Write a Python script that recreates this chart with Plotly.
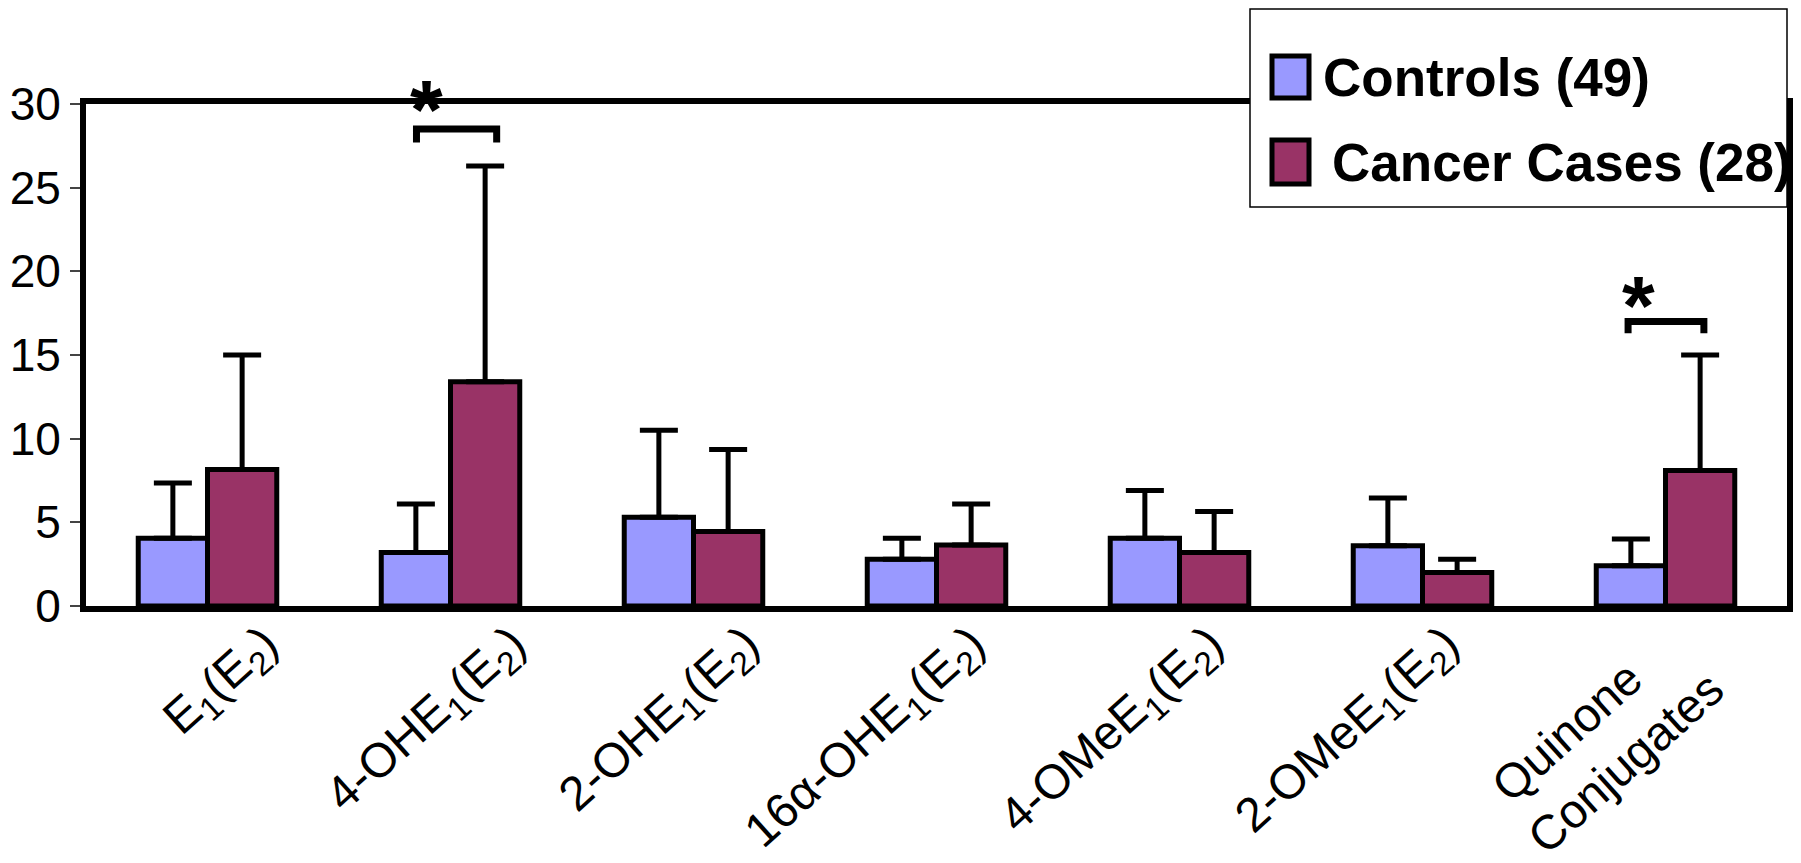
import plotly.graph_objects as go

# ---------------- data ----------------
categories = [
    "E<sub>1</sub>(E<sub>2</sub>)",
    "4-OHE<sub>1</sub>(E<sub>2</sub>)",
    "2-OHE<sub>1</sub>(E<sub>2</sub>)",
    "16α-OHE<sub>1</sub>(E<sub>2</sub>)",
    "4-OMeE<sub>1</sub>(E<sub>2</sub>)",
    "2-OMeE<sub>1</sub>(E<sub>2</sub>)",
    "Quinone&nbsp;&nbsp;&nbsp;&nbsp;<br>Conjugates",
]
controls = [4.05, 3.2, 5.3, 2.8, 4.05, 3.6, 2.4]
controls_err = [3.3, 2.9, 5.2, 1.25, 2.85, 2.85, 1.6]
cases = [8.15, 13.4, 4.45, 3.65, 3.2, 2.0, 8.1]
cases_err = [6.85, 12.9, 4.9, 2.45, 2.45, 0.8, 6.9]
series_names = ["Controls (49)", "Cancer Cases (28)"]
series_colors = ["#9999FF", "#993366"]
y_ticks = [0, 5, 10, 15, 20, 25, 30]
# significance brackets: (group index, left offset, right offset, bar level, leg end, star offset, star level)
sig_marks = [
    (1, -0.14, 0.19, 28.5, 27.7, -0.097, 29.6),
    (6, -0.154, 0.158, 17.0, 16.3, -0.113, 18.5),
]

# layout-only nudges of the rotated category labels (in category units)
label_nudge = [0.07, 0.09, 0.05, -0.02, -0.04, -0.07, -0.15]

FONT = "Arial, Liberation Sans, sans-serif"
OFF = 8  # page body margin
W, H = 1801 - OFF, 863 - OFF
PL, PR, PT, PB = 86 - OFF, 1787 - OFF, 104 - OFF, 606 - OFF


def pxx(x):
    return (x - OFF - PL) / (PR - PL)


def pxy(y):
    return (PB - (y - OFF)) / (PB - PT)


xs = list(range(len(categories)))
label_pos = [x + d for x, d in zip(xs, label_nudge)]

fig = go.Figure()
for name, vals, errs, col in [
    (series_names[0], controls, controls_err, series_colors[0]),
    (series_names[1], cases, cases_err, series_colors[1]),
]:
    fig.add_trace(go.Bar(
        x=xs, y=vals, name=name,
        marker=dict(color=col, line=dict(color="black", width=5)),
        error_y=dict(type="data", array=errs, symmetric=False,
                     arrayminus=[0] * len(errs),
                     color="black", thickness=5, width=19),
        showlegend=False,
    ))

shapes = []
annotations = []
for i, (g, lo, hi, lvl, leg, so, sl) in enumerate(sig_marks):
    shapes.append(dict(
        type="path", xref="x", yref="y",
        path=f"M {g+lo},{leg} L {g+lo},{lvl} L {g+hi},{lvl} L {g+hi},{leg}",
        line=dict(color="black", width=7),
    ))
    annotations.append(dict(
        x=g + so, y=sl, xref="x", yref="y", text="<b>*</b>",
        showarrow=False, font=dict(family=FONT, size=84, color="black"),
        yshift=-10 + (11 if i == 0 else 0),
    ))

# manual legend
shapes.append(dict(type="rect", xref="paper", yref="paper",
                   x0=pxx(1250), x1=pxx(1787), y0=pxy(207), y1=pxy(9),
                   fillcolor="white", line=dict(color="black", width=1.5),
                   layer="above"))
legend_rows = [
    (series_names[0], series_colors[0], 56, 98, 1321, 77),
    (series_names[1], series_colors[1], 140, 184, 1330, 162),
]
for name, col, sy0, sy1, tx, ty in legend_rows:
    shapes.append(dict(type="rect", xref="paper", yref="paper",
                       x0=pxx(1272), x1=pxx(1309), y0=pxy(sy1), y1=pxy(sy0),
                       fillcolor=col, line=dict(color="black", width=5),
                       layer="above"))
    annotations.append(dict(
        x=pxx(tx), y=pxy(ty), xref="paper", yref="paper",
        xanchor="left", yanchor="middle", text=f"<b>{name}</b>",
        showarrow=False, font=dict(family=FONT, size=53, color="black"),
    ))

fig.update_layout(
    width=W, height=H,
    margin=dict(l=PL, r=W - PR, t=PT, b=H - PB, pad=0),
    plot_bgcolor="white", paper_bgcolor="white",
    barmode="group", bargap=0.43, bargroupgap=0,
    shapes=shapes, annotations=annotations,
    font=dict(family=FONT, color="black"),
)
fig.update_xaxes(
    range=[-0.5, len(categories) - 0.5],
    tickvals=label_pos, ticktext=categories, tickangle=-42,
    tickfont=dict(family=FONT, size=48, color="black"),
    ticklabelshift=40, ticklabelstandoff=-16,
    automargin=False,
    showline=True, linecolor="black", linewidth=6, mirror=True,
    ticks="", showgrid=False, zeroline=False,
)
fig.update_yaxes(
    range=[0, 30], tickvals=y_ticks,
    tickfont=dict(family=FONT, size=46, color="black"),
    automargin=False,
    showline=True, linecolor="black", linewidth=6, mirror=True,
    ticks="outside", ticklen=10, tickwidth=1.5, tickcolor="#444",
    showgrid=False, zeroline=False,
)

fig.write_html("out.html")
